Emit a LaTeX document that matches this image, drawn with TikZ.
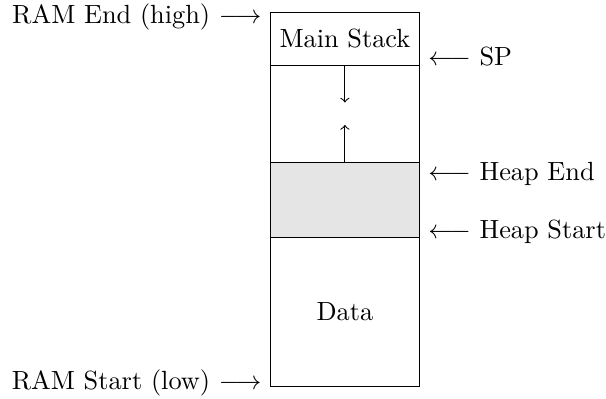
\documentclass[tikz,border=0pt]{standalone}
\usepackage{tikz}

\begin{document}
\begin{tikzpicture}[every node/.style={outer sep=0pt},
  region/.style={draw, minimum width=2cm, inner sep=0pt}]
  \useasboundingbox (-3.61,-0.16) rectangle (4.49,5.17);

  % Speicherbereiche von unten nach oben
  \node[region, minimum height=2cm, anchor=south west] (data) at (0,0) {Data};
  \node[region, fill=black!10, minimum height=1cm, anchor=south] (heap) at (data.north) {};
  \node[region, minimum height=1.3cm, anchor=south] (free) at (heap.north) {};
  \node[region, minimum height=0.7cm, anchor=south] (stack) at (free.north) {Main Stack};

  % Wachstumsrichtung
  \path (stack.south) ++(0,-0.5) coordinate (stackgrow);
  \path (heap.north) ++(0,0.5) coordinate (heapgrow);
  \draw[->] (stack.south) -- (stackgrow);
  \draw[->] (heap.north) -- (heapgrow);

  % Beschriftungen
  \node[anchor=east, inner sep=3.33pt] (ramend) at ([yshift=-0.05cm]stack.north west) {RAM End (high) $\longrightarrow$};
  \node[anchor=east, inner sep=3.33pt] (ramstart) at ([yshift=0.05cm]data.south west) {RAM Start (low) $\longrightarrow$};
  \node[anchor=west, inner sep=3.33pt] (sp) at ([yshift=0.11cm]stack.south east) {$\longleftarrow$ SP};
  \node[anchor=west, inner sep=3.33pt] (heapend) at ([yshift=-0.15cm]heap.north east) {$\longleftarrow$ Heap End};
  \node[anchor=west, inner sep=3.33pt] (heapstart) at ([yshift=0.07cm]heap.south east) {$\longleftarrow$ Heap Start};
\end{tikzpicture}
\end{document}
